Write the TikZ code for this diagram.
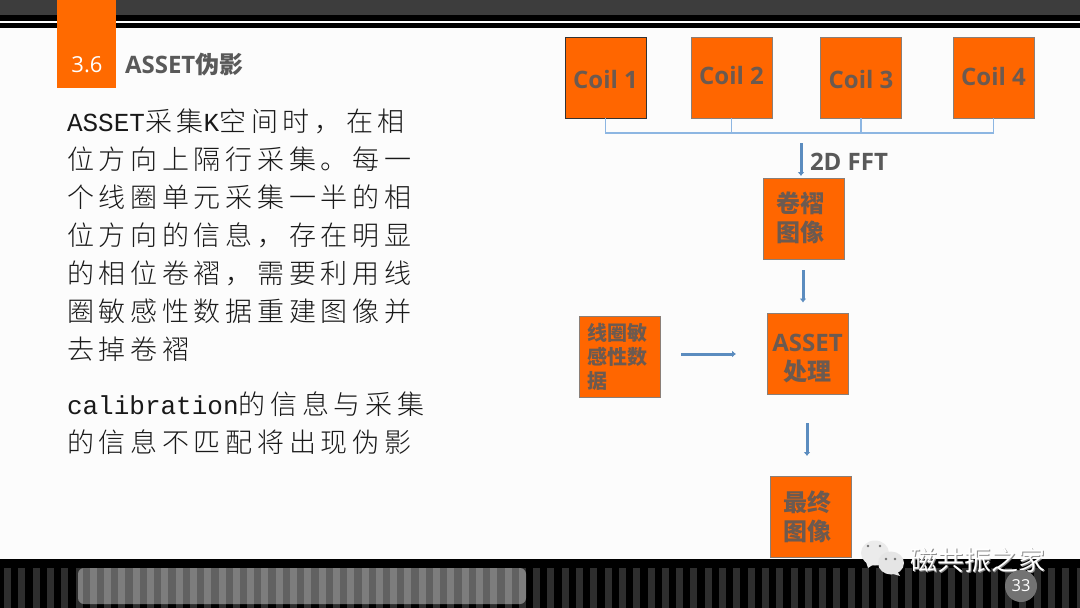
\documentclass[tikz,border=0pt]{standalone}
\usepackage{fontspec}
\setmainfont{Open Sans}
\newfontfamily\cjk{Noto Sans CJK SC}
\newfontfamily\bodycjk[LetterSpace=17.5]{Noto Sans CJK SC Light}
\newfontfamily\bodylat{Liberation Mono}
\newcommand{\bz}[1]{{\bodycjk #1}}
\newcommand{\bl}[1]{{\bodylat\fontsize{26}{30}\selectfont #1}}
\newcommand{\shd}[2]{\raisebox{0pt}[\dimexpr\height+#1+#1\relax][\depth]{#2}}
\newcommand{\shu}[2]{\raisebox{0pt}[\height][\dimexpr\depth+#1+#1\relax]{#2}}
\newcommand{\twolines}[2]{\begin{tabular}{@{}c@{}}#1\\#2\end{tabular}}
\definecolor{tabor}{HTML}{FF6A00}
\definecolor{boxor}{HTML}{FF6600}
\definecolor{boxtx}{HTML}{6C5A50}
\definecolor{boxln}{HTML}{8A7F78}
\definecolor{titlegray}{HTML}{595959}
\definecolor{arrowblue}{HTML}{5B8CBF}
\definecolor{buslight}{HTML}{8DB6E2}
\usetikzlibrary{arrows.meta}
\tikzset{
  x=1pt,y=-1pt,
  every node/.style={inner sep=0pt,outer sep=0pt},
  orbox/.style={draw=boxln,line width=0.8pt,fill=boxor,minimum width=81pt,minimum height=81pt,text=boxtx,font=\bfseries\fontsize{24}{27}\selectfont,align=center},
  bodyline/.style={anchor=base west,text=black!90,font=\fontsize{27}{30}\selectfont},
  flow/.style={draw=arrowblue,line width=3pt,-{Latex[length=4pt,width=7pt]}},
  bus/.style={draw=buslight,line width=1.15pt},
}
\begin{document}
\begin{tikzpicture}
\useasboundingbox (0,0) rectangle (1080,608);
\fill[white!99!black] (0,0) rectangle (1080,608);
% top band
\fill[black!76] (0,0) rectangle (1080,15);
\fill[black] (0,15) rectangle (1080,28);
\fill[white] (0,20.5) rectangle (1080,23);
\fill[tabor] (57,0) rectangle (116,88);
% bottom band
\fill[black] (0,559) rectangle (1080,608);
\foreach \i in {0,...,75}{\fill[black!82] ({4+14.3*\i},568) rectangle ++(7,40);}
\fill[white,opacity=0.38,rounded corners=6pt] (78,568) rectangle (526,604);
% title
\node[text=white,font=\fontsize{22}{26}\selectfont] (secno) at (87,65) {3.6};
\node[anchor=west,text=titlegray,font=\bfseries\fontsize{24}{26}\selectfont] (sectitle) at (125,65) {ASSET{\cjk 伪影}};
% body
\node[bodyline] (l1) at (67,131) {\bl{ASSET}\bz{采集}\bl{K}\bz{空间时，在相}};
\node[bodyline] (l2) at (67,169) {\bz{位方向上隔行采集。每一}};
\node[bodyline] (l3) at (67,207) {\bz{个线圈单元采集一半的相}};
\node[bodyline] (l4) at (67,245) {\bz{位方向的信息，存在明显}};
\node[bodyline] (l5) at (67,283) {\bz{的相位卷褶，需要利用线}};
\node[bodyline] (l6) at (67,321) {\bz{圈敏感性数据重建图像并}};
\node[bodyline] (l7) at (67,359) {\bz{去掉卷褶}};
\node[bodyline] (l8) at (67,414) {\bl{calibration}\bz{的信息与采集}};
\node[bodyline] (l9) at (67,452) {\bz{的信息不匹配将出现伪影}};
% boxes
\node[orbox,draw=black!80] (c1) at (605.5,77.5) {\shd{2pt}{Coil 1}};
\node[orbox] (c2) at (731.5,77.5) {\shu{2pt}{Coil 2}};
\node[orbox] (c3) at (861,77.5) {\shd{2pt}{Coil 3}};
\node[orbox] (c4) at (993.5,77.5) {\shu{1pt}{Coil 4}};
\node[orbox] (wrap) at (803.5,218.5) {\shd{2.5pt}{\twolines{\hspace*{-6pt}{\cjk 卷褶}}{\hspace*{-6pt}{\cjk 图像}}}};
\node[orbox] (asset) at (807.5,354) {\shd{6.5pt}{\twolines{ASSET}{\cjk 处理}}};
\node[orbox,align=left,font=\bfseries\fontsize{20}{24}\selectfont,text width=65pt] (sens) at (619.5,356.5) {{\cjk 线圈敏}\\{\cjk 感性数}\\{\cjk 据}};
\node[orbox] (final) at (810.5,517) {\shd{2.5pt}{\twolines{\hspace*{-6pt}{\cjk 最终}}{\hspace*{-6pt}{\cjk 图像}}}};
% bus
\coordinate (busend) at (993.5,133);
\draw[bus] (c1.south) |- (busend) -- (c4.south);
\draw[bus] (c2.south) -- (c2.south |- busend);
\draw[bus] (c3.south) -- (c3.south |- busend);
% arrows
\coordinate (a1s) at (801,143);
\coordinate (a1e) at (801,176);
\draw[flow] (a1s) -- (a1e);
\node[anchor=west,text=titlegray,font=\bfseries\fontsize{24}{26}\selectfont] (fft) at (810,162) {2D FFT};
\coordinate (a2s) at (803,270);
\coordinate (a2e) at (803,302.5);
\draw[flow] (a2s) -- (a2e);
\coordinate (a3s) at (681,354);
\coordinate (a3e) at (736,354);
\draw[flow] (a3s) -- (a3e);
\coordinate (a4s) at (807,423);
\coordinate (a4e) at (807,456);
\draw[flow] (a4s) -- (a4e);
% watermark
\fill[black!8] (875,553) ellipse (14 and 12.5);
\fill[black!8] (866,562) -- (868,568) -- (874,564) -- cycle;
\fill[black!10] (891,563) ellipse (13 and 11.5);
\fill[black!10] (897,571) -- (900,576) -- (890,573) -- cycle;
\fill[black!55] (886,559) circle (1.3) (895,559) circle (1.3);
\fill[black!55] (868,546) circle (1.3) (880,546) circle (1.3);
\node[anchor=west,text=black!45,font=\cjk\fontsize{27}{30}\selectfont] (wmshadow) at (911,561) {磁共振之家};
\node[anchor=west,text=white,font=\cjk\fontsize{27}{30}\selectfont] (wm) at (910,560) {磁共振之家};
\node[circle,fill=black!55,minimum size=32pt,text=white,font=\fontsize{16.5}{18}\selectfont] (pg) at (1021,586) {33};
\end{tikzpicture}
\end{document}
